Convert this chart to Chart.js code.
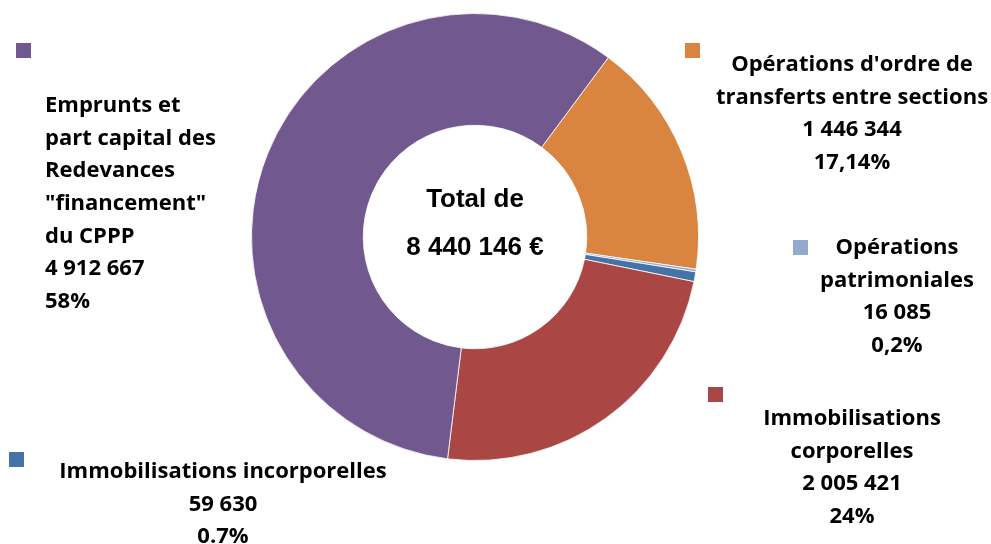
<!DOCTYPE html>
<html lang="fr">
<head>
<meta charset="UTF-8" />
<title>Donut</title>
<script src="https://cdn.jsdelivr.net/npm/chart.js"></script>
<style>
  html, body { margin: 0; padding: 0; background: #fff; }
  #wrap { width: 991px; height: 544px; }
</style>
</head>
<body>
<div id="wrap"><canvas id="donut" width="991" height="544"></canvas></div>
<script>
  // donnees
  const categories = [
    "Opérations d'ordre de transferts entre sections",
    "Opérations patrimoniales",
    "Immobilisations incorporelles",
    "Immobilisations corporelles",
    'Emprunts et part capital des Redevances "financement" du CPPP'
  ];
  const values = [1446344, 16085, 59630, 2005421, 4912667];
  const valueLabels = ["1 446 344", "16 085", "59 630", "2 005 421", "4 912 667"];
  const pctLabels = ["17,14%", "0,2%", "0.7%", "24%", "58%"];
  const nameLines = [
    ["Opérations d'ordre de", "transferts entre sections"],
    ["Opérations", "patrimoniales"],
    ["Immobilisations incorporelles"],
    ["Immobilisations", "corporelles"],
    ["Emprunts et", "part capital des", "Redevances", '"financement"', "du CPPP"]
  ];
  const colors = ["#D9843F", "#93A9CF", "#4572A7", "#AA4644", "#71588F"];
  const totalLines = ["Total de", "8 440 146 €"];

  // placement des etiquettes (carre + texte)
  const labelLayout = [
    { sq: [685, 43], x: 852, y: 65, align: "center" },
    { sq: [793, 240], x: 897, y: 248, align: "center" },
    { sq: [9, 452], x: 223, y: 472, align: "center" },
    { sq: [708, 387], x: 852, y: 419, align: "center" },
    { sq: [16, 43], x: 45, y: 106, align: "left" }
  ];
  const lineGap = 32.6;
  const labelFont = "bold 22px 'Open Sans'";

  const labelPlugin = {
    id: "etiquettes",
    afterDraw(chart) {
      const ctx = chart.ctx;
      ctx.save();
      // total au centre
      const meta = chart.getDatasetMeta(0).data[0];
      ctx.fillStyle = "#000";
      ctx.textAlign = "center";
      ctx.textBaseline = "middle";
      ctx.font = "bold 26px 'Liberation Sans'";
      ctx.fillText(totalLines[0], meta.x, 200);
      ctx.fillText(totalLines[1], meta.x, 248);

      ctx.font = labelFont;
      for (let i = 0; i < categories.length; i++) {
        const l = labelLayout[i];
        ctx.fillStyle = colors[i];
        ctx.fillRect(l.sq[0], l.sq[1], 15, 15);
        ctx.fillStyle = "#000";
        ctx.textAlign = l.align;
        const lines = nameLines[i].concat([valueLabels[i], pctLabels[i]]);
        lines.forEach(function (t, k) {
          ctx.fillText(t, l.x, l.y + k * lineGap);
        });
      }
      ctx.restore();
    }
  };

  new Chart(document.getElementById("donut"), {
    type: "doughnut",
    data: {
      labels: categories,
      datasets: [{
        data: values,
        backgroundColor: colors,
        borderColor: "rgba(255,255,255,0.8)",
        borderWidth: 1,
        hoverOffset: 0
      }]
    },
    options: {
      responsive: false,
      animation: false,
      rotation: 36.6,
      cutout: "50%",
      layout: { padding: { left: 100, right: 141, top: 13, bottom: 83 } },
      plugins: {
        legend: { display: false },
        tooltip: { enabled: false }
      }
    },
    plugins: [labelPlugin]
  });
</script>
</body>
</html>
